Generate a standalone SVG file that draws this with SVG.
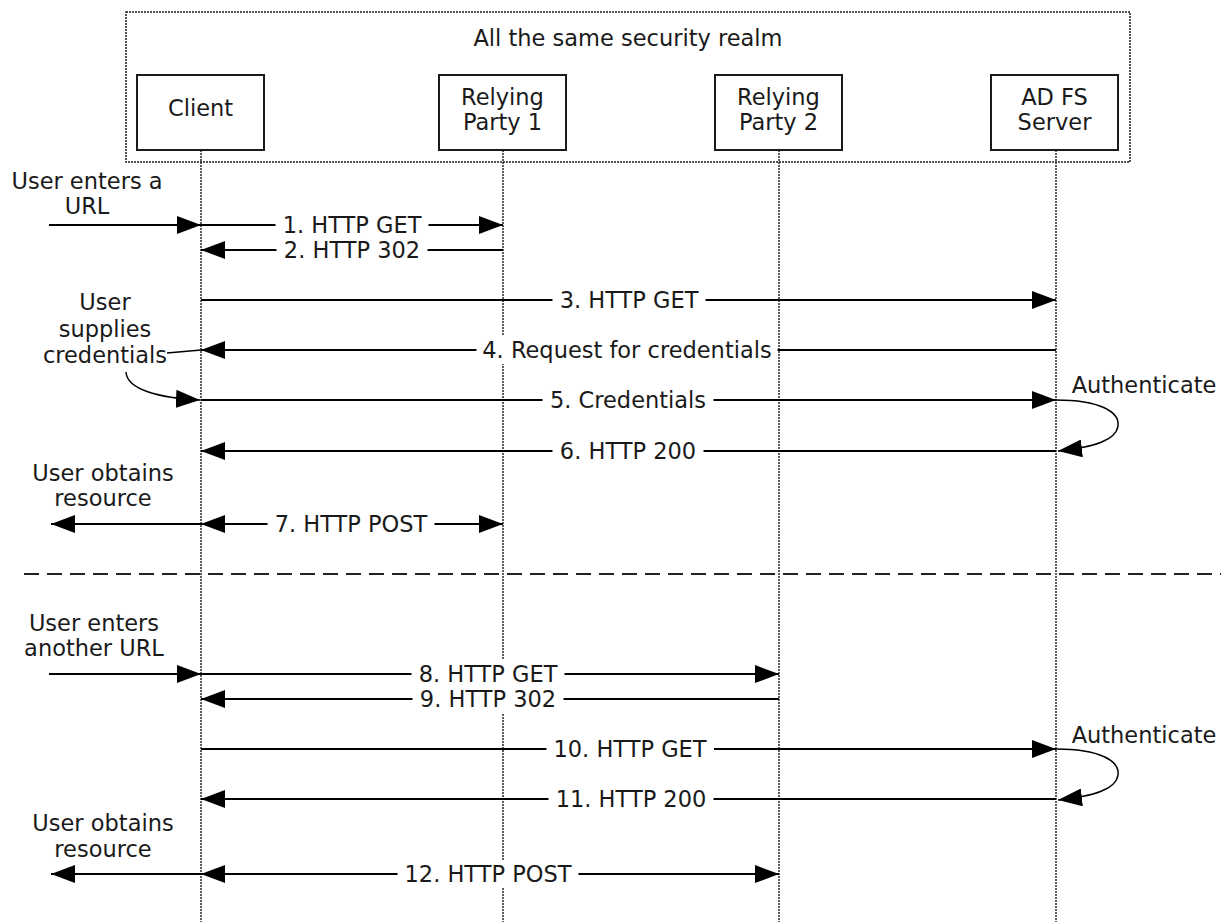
<svg xmlns="http://www.w3.org/2000/svg" width="1221" height="922" viewBox="0 0 1221 922">
<style>
text{font-family:"DejaVu Sans","Liberation Sans",sans-serif;font-size:22.5px;fill:#1a1a1a;text-anchor:middle}
.box{fill:#fff;stroke:#1a1a1a;stroke-width:2}
.realm{fill:none;stroke:#1a1a1a;stroke-width:1.5;stroke-dasharray:2 1}
.life{stroke:#1a1a1a;stroke-width:1.4;stroke-dasharray:2 1;fill:none}
.msg{stroke:#000;stroke-width:2;fill:none}
.end{marker-end:url(#ah)}
.both{marker-start:url(#ah);marker-end:url(#ah)}
.curve{stroke:#000;stroke-width:1.5;fill:none;marker-end:url(#ah)}
.bg{fill:#fff}
.sep{stroke:#222;stroke-width:2;stroke-dasharray:15 8}
</style>
<defs>
<marker id="ah" viewBox="0 0 24 18" refX="24" refY="9" markerWidth="24" markerHeight="18" markerUnits="userSpaceOnUse" orient="auto-start-reverse"><path d="M0,0 L24,9 L0,18 z" fill="#000"/></marker>
</defs>
<rect width="1221" height="922" fill="#fff"/>
<g id="realm">
<rect class="realm" x="126" y="12" width="1004" height="150"/>
<text x="628" y="46">All the same security realm</text>
</g>
<g id="lifelines">
<line class="life" x1="201" y1="150" x2="201" y2="922"/>
<line class="life" x1="503" y1="150" x2="503" y2="922"/>
<line class="life" x1="779" y1="150" x2="779" y2="922"/>
<line class="life" x1="1056" y1="150" x2="1056" y2="922"/>
</g>
<g id="client"><rect class="box" x="137" y="75" width="127" height="75"/><text x="200.5" y="116">Client</text></g>
<g id="rp1"><rect class="box" x="439" y="75" width="127" height="75"/><text x="502.5" y="105">Relying</text><text x="502.5" y="130">Party 1</text></g>
<g id="rp2"><rect class="box" x="715" y="75" width="127" height="75"/><text x="778.5" y="105">Relying</text><text x="778.5" y="130">Party 2</text></g>
<g id="adfs"><rect class="box" x="991" y="75" width="127" height="75"/><text x="1054.5" y="105">AD FS</text><text x="1054.5" y="130">Server</text></g>
<line class="sep" x1="24" y1="574" x2="1221" y2="574"/>
<g id="connectors">
<line class="msg end" x1="49" y1="225" x2="201" y2="225"/>
<line class="msg end" x1="201" y1="225" x2="503" y2="225"/>
<line class="msg end" x1="503" y1="250" x2="201" y2="250"/>
<line class="msg end" x1="201" y1="300" x2="1056" y2="300"/>
<line class="msg end" x1="1056" y1="350" x2="201" y2="350"/>
<line class="msg end" x1="201" y1="400" x2="1056" y2="400"/>
<line class="msg end" x1="1056" y1="451" x2="201" y2="451"/>
<line class="msg both" x1="201" y1="524" x2="503" y2="524"/>
<line class="msg end" x1="201" y1="524" x2="51" y2="524"/>
<line class="msg end" x1="49" y1="674" x2="201" y2="674"/>
<line class="msg end" x1="201" y1="674" x2="779" y2="674"/>
<line class="msg end" x1="779" y1="699" x2="201" y2="699"/>
<line class="msg end" x1="201" y1="749" x2="1056" y2="749"/>
<line class="msg end" x1="1056" y1="799" x2="201" y2="799"/>
<line class="msg both" x1="201" y1="874" x2="779" y2="874"/>
<line class="msg end" x1="201" y1="874" x2="51" y2="874"/>
<line stroke="#000" stroke-width="1.3" x1="167" y1="353" x2="201" y2="350"/>
<path class="curve" d="M126,372 C127,390 160,398 200,400"/>
<path class="curve" d="M1056,400 C1100,400 1120,412 1118,426 C1116,440 1095,447 1058,451"/>
<path class="curve" d="M1056,749 C1100,749 1120,761 1118,775 C1116,789 1095,796 1058,800"/>
<g id="labels">
<rect class="bg" x="275.5" y="211" width="153" height="28"/><text x="352" y="233">1. HTTP GET</text>
<rect class="bg" x="276.5" y="236" width="151" height="28"/><text x="352" y="258">2. HTTP 302</text>
<rect class="bg" x="552.5" y="286" width="153" height="28"/><text x="629" y="308">3. HTTP GET</text>
<rect class="bg" x="476.5" y="336" width="301" height="28"/><text x="627" y="358">4. Request for credentials</text>
<rect class="bg" x="542.5" y="386" width="171" height="28"/><text x="628" y="408">5. Credentials</text>
<rect class="bg" x="552.5" y="437" width="151" height="28"/><text x="628" y="459">6. HTTP 200</text>
<rect class="bg" x="267.5" y="510" width="167" height="28"/><text x="351" y="532">7. HTTP POST</text>
<rect class="bg" x="411.5" y="660" width="153" height="28"/><text x="488" y="682">8. HTTP GET</text>
<rect class="bg" x="412.5" y="685" width="151" height="28"/><text x="488" y="707">9. HTTP 302</text>
<rect class="bg" x="546.5" y="735" width="167.5" height="28"/><text x="630" y="757">10. HTTP GET</text>
<rect class="bg" x="548.5" y="785" width="165" height="28"/><text x="631" y="807">11. HTTP 200</text>
<rect class="bg" x="397.5" y="860" width="181" height="28"/><text x="488" y="882">12. HTTP POST</text>
</g>
</g>
<g id="annotations">
<text x="87" y="189">User enters a</text>
<text x="87" y="214">URL</text>
<text x="105" y="310">User</text>
<text x="105" y="337">supplies</text>
<text x="105" y="363">credentials</text>
<text x="103" y="481">User obtains</text>
<text x="103" y="506">resource</text>
<text x="94" y="631">User enters</text>
<text x="94" y="656">another URL</text>
<text x="103" y="831">User obtains</text>
<text x="103" y="857">resource</text>
<text x="1144" y="393">Authenticate</text>
<text x="1144" y="743">Authenticate</text>
</g>
</svg>
